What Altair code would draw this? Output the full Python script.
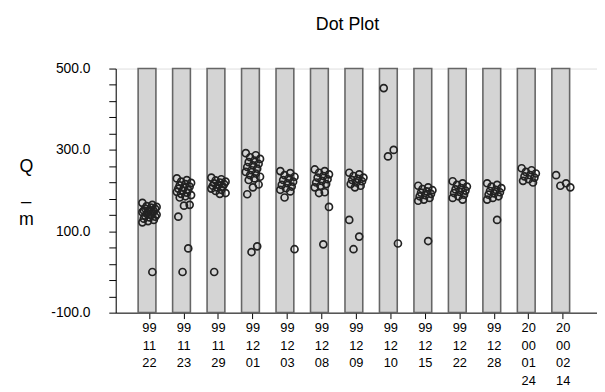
import altair as alt
import pandas as pd

dates = ["99/11/22", "99/11/23", "99/11/29", "99/12/01", "99/12/03", "99/12/08",
         "99/12/09", "99/12/10", "99/12/15", "99/12/22", "99/12/28",
         "20/00/01/24", "20/00/02/14"]

v_1122 = [170, 165, 162, 160, 158, 156, 155, 153, 151, 150, 148, 147, 145, 143, 141,
          140, 138, 136, 134, 131, 128, 125, 122, 0]
v_1123 = [230, 226, 222, 219, 216, 213, 210, 207, 205, 202, 200, 197, 195, 192, 189,
          186, 183, 165, 163, 136, 58, 0]
v_1129 = [232, 228, 225, 222, 220, 218, 216, 214, 212, 210, 208, 205, 202, 199, 194,
          192, 0]
v_1201 = [292, 287, 282, 278, 274, 270, 266, 262, 258, 254, 250, 246, 242, 238, 234,
          230, 226, 215, 208, 191, 63, 49]
v_1203 = [248, 243, 238, 234, 230, 226, 222, 218, 214, 210, 206, 202, 198, 183, 56]
v_1208 = [252, 248, 244, 240, 236, 232, 228, 224, 220, 216, 212, 208, 196, 194, 160, 68]
v_1209 = [244, 240, 236, 232, 229, 226, 223, 220, 216, 212, 208, 128, 87, 56]
v_1210 = [452, 300, 284, 70]
v_1215 = [212, 208, 204, 201, 198, 195, 192, 189, 186, 182, 178, 175, 76]
v_1222 = [223, 218, 214, 210, 206, 203, 200, 197, 194, 190, 186, 182, 178]
v_1228 = [218, 214, 210, 206, 202, 199, 196, 193, 190, 186, 182, 178, 128]
v_0124 = [255, 250, 246, 242, 238, 235, 232, 228, 224, 220]
v_0214 = [238, 218, 212, 208]

all_values = [v_1122, v_1123, v_1129, v_1201, v_1203, v_1208, v_1209, v_1210,
              v_1215, v_1222, v_1228, v_0124, v_0214]

rows = []
for d, vals in zip(dates, all_values):
    for i, v in enumerate(vals):
        rows.append({"date": d, "value": v, "i": i})
df = pd.DataFrame(rows)
bars_df = pd.DataFrame({"date": dates})

FONT = "Liberation Sans"
x_scale = alt.Scale(domain=dates, paddingInner=0.34, paddingOuter=0.65)
y_scale = alt.Scale(domain=[-100, 500], nice=False, zero=False)

x_axis = alt.Axis(
    title=None, labelExpr="split(datum.label, '/')", labelAngle=0,
    tickSize=6, labelPadding=3, labelFontSize=13, labelLineHeight=18,
    labelBaseline="top", domainColor="black", tickColor="black",
    labelColor="black", grid=False, labelFont=FONT,
)

y_axis = alt.Axis(
    values=list(range(-100, 501, 40)),
    labelExpr="(datum.value + 100) % 200 == 0 ? (datum.value + '.0') : ''",
    tickSize=7, labelPadding=19, labelFontSize=14, grid=False,
    domainColor="black", tickColor="black", labelColor="black",
    labelOverlap=False, labelFont=FONT,
    title=["Q", "_", "m"], titleAngle=0, titleAlign="center",
    titleBaseline="top", titleX=-91, titleY=90, titleFontSize=18,
    titleFontWeight="normal", titleLineHeight=27, titleFont=FONT,
    titleColor="black",
)

bars = alt.Chart(bars_df).mark_bar(
    fill="#d4d4d4", stroke="#666666", strokeWidth=1.6
).encode(
    x=alt.X("date:N", scale=x_scale, sort=dates, axis=x_axis),
    y=alt.Y(datum=500, type="quantitative", scale=y_scale, axis=y_axis),
    y2=alt.Y2(datum=-100),
)

points = alt.Chart(df).mark_point(
    shape="circle", filled=False, stroke="#222222", strokeWidth=1.7,
    size=50, opacity=1,
).transform_calculate(
    j="((datum.i * 7) % 11 - 5) / 5"
).encode(
    x=alt.X("date:N", scale=x_scale, sort=dates, axis=x_axis),
    xOffset=alt.XOffset("j:Q", scale=alt.Scale(domain=[-1.6, 1.6])),
    y=alt.Y("value:Q", scale=y_scale, axis=y_axis),
)

chart = alt.layer(bars, points).properties(
    width=487, height=247,
    title=alt.TitleParams("Dot Plot", fontSize=18, fontWeight="normal", font=FONT,
                          anchor="middle", frame="group", offset=28, dx=-9,
                          color="black"),
    autosize=alt.AutoSizeParams(type="none"),
    padding={"left": 109, "top": 59, "right": 0, "bottom": 78},
).configure_view(stroke=None).configure(background="white")

chart.save("out.html", embed_options={"renderer": "svg", "actions": False})
